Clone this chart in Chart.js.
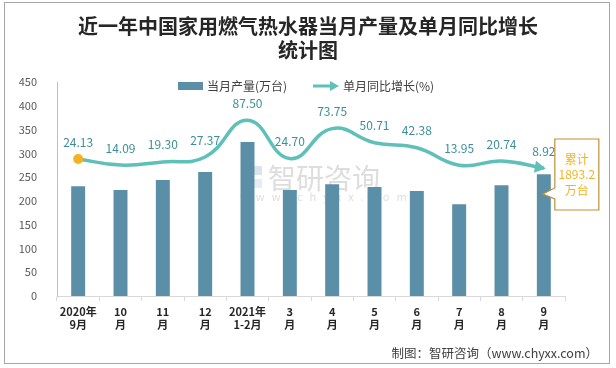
<!DOCTYPE html>
<html>
<head>
<meta charset="utf-8">
<script src="https://cdn.jsdelivr.net/npm/chart.js@4/dist/chart.umd.min.js"></script>
<style>
  html, body { margin: 0; padding: 0; background: #fff; }
  #wrap { width: 616px; height: 368px; position: relative; }
</style>
</head>
<body>
<div id="wrap"><canvas id="c" width="616" height="368"></canvas></div>
<script>
// ---- Datos ----
const months = [
  ['2020年', '9月'], ['10', '月'], ['11', '月'], ['12', '月'],
  ['2021年', '1-2月'], ['3', '月'], ['4', '月'], ['5', '月'],
  ['6', '月'], ['7', '月'], ['8', '月'], ['9', '月']
];
const output = [231, 223, 244, 261, 324, 223, 235, 229, 221, 193, 233, 256];
const growth = [24.13, 14.09, 19.30, 27.37, 87.50, 24.70, 73.75, 50.71, 42.38, 13.95, 20.74, 8.92];
const yTicks = [0, 50, 100, 150, 200, 250, 300, 350, 400, 450];
const titleLines = ['近一年中国家用燃气热水器当月产量及单月同比增长', '统计图'];
const legendBar = '当月产量(万台)';
const legendLine = '单月同比增长(%)';
const totalNote = ['累计', '1893.2', '万台'];
const sourceText = '制图：智研咨询（www.chyxx.com）';

const BAR = '#5b8fa8';
const TEAL = '#5ec0b8';
const LABEL = '#3c8f98';
const GOLD = '#f4b223';
const FONT = '"Noto Sans CJK SC", "Noto Sans", sans-serif';

// ---- Decoración (título, leyenda, marca de agua, nota) ----
const deco = {
  id: 'deco',
  beforeDraw(chart) {
    const c = chart.ctx;
    c.save();
    c.fillStyle = '#fff';
    c.fillRect(0, 0, chart.width, chart.height);
    c.strokeStyle = '#a6a6a6';
    c.lineWidth = 1;
    c.strokeRect(4.5, 2.5, 605, 361);

    // marca de agua
    c.globalAlpha = 0.25;
    c.fillStyle = '#6f8fb0';
    c.fillRect(241, 166, 8, 22);
    c.fillRect(251, 166, 11, 9);
    c.fillStyle = '#9fb6cc';
    c.fillRect(251, 179, 11, 9);
    c.font = '28px ' + FONT;
    c.textBaseline = 'middle';
    c.textAlign = 'left';
    c.fillStyle = '#777';
    c.fillText('智研咨询', 268, 178);
    c.font = '11px ' + FONT;
    if ('letterSpacing' in c) c.letterSpacing = '7px';
    c.fillText('www.chyxx.com', 240, 197);
    if ('letterSpacing' in c) c.letterSpacing = '0px';
    c.restore();
  },
  afterDraw(chart) {
    const c = chart.ctx;
    c.save();
    // título
    c.fillStyle = '#262626';
    c.textAlign = 'center';
    c.textBaseline = 'middle';
    c.font = 'bold 20px ' + FONT;
    c.fillText(titleLines[0], 308, 26);
    c.fillText(titleLines[1], 308, 50);

    // leyenda
    c.font = '12px ' + FONT;
    c.textAlign = 'left';
    c.fillStyle = BAR;
    c.fillRect(178, 82, 25, 8);
    c.fillStyle = '#404040';
    c.fillText(legendBar, 207, 86);
    c.strokeStyle = TEAL;
    c.lineWidth = 3;
    c.beginPath(); c.moveTo(313, 86); c.lineTo(331, 86); c.stroke();
    c.fillStyle = TEAL;
    c.beginPath(); c.moveTo(339, 86); c.lineTo(330, 81); c.lineTo(330, 91); c.closePath(); c.fill();
    c.fillStyle = '#404040';
    c.fillText(legendLine, 343, 86);

    // fuente
    c.font = '12.5px ' + FONT;
    c.textAlign = 'right';
    c.fillStyle = '#404040';
    c.fillText(sourceText, 598, 353);

    // nota acumulada junto a la última barra
    const bars = chart.getDatasetMeta(0).data;
    const last = bars[bars.length - 1];
    const tipX = last.x - 1, tipY = 194;
    const bx = tipX + 12, by = 139, bw = 44, bh = 71;
    c.beginPath();
    c.moveTo(bx, by);
    c.lineTo(bx + bw, by);
    c.lineTo(bx + bw, by + bh);
    c.lineTo(bx, by + bh);
    c.lineTo(bx, tipY + 5);
    c.lineTo(tipX, tipY);
    c.lineTo(bx, tipY - 6);
    c.closePath();
    c.fillStyle = '#fff';
    c.fill();
    c.strokeStyle = '#bf9033';
    c.lineWidth = 1.2;
    c.stroke();
    c.fillStyle = GOLD;
    c.font = '12px ' + FONT;
    c.textAlign = 'center';
    totalNote.forEach((t, i) => c.fillText(t, bx + bw / 2, 159 + i * 15.5));
    c.restore();
  },
  afterDatasetsDraw(chart) {
    const c = chart.ctx;
    const pts = chart.getDatasetMeta(1).data;
    c.save();
    // punta de flecha al final de la línea
    const p = pts[pts.length - 1];
    const ang = Math.atan2(p.y - p.cp1y, p.x - p.cp1x);
    c.translate(p.x, p.y);
    c.rotate(ang);
    c.fillStyle = TEAL;
    c.beginPath(); c.moveTo(2, 0); c.lineTo(-9, -6); c.lineTo(-9, 6); c.closePath(); c.fill();
    c.restore();

    // etiquetas de datos
    c.save();
    c.font = '12px ' + FONT;
    c.fillStyle = LABEL;
    c.textAlign = 'center';
    c.textBaseline = 'middle';
    pts.forEach((pt, i) => c.fillText(growth[i].toFixed(2), pt.x, pt.y - 17));
    c.restore();
  }
};

new Chart(document.getElementById('c'), {
  data: {
    labels: months,
    datasets: [
      {
        type: 'bar',
        label: legendBar,
        data: output,
        backgroundColor: BAR,
        barPercentage: 0.33,
        categoryPercentage: 1,
        yAxisID: 'y',
        order: 1
      },
      {
        type: 'line',
        label: legendLine,
        data: growth,
        borderColor: TEAL,
        borderWidth: 3.5,
        tension: 0.45,
        pointRadius: (ctx) => ctx.dataIndex === 0 ? 5 : 0,
        pointBackgroundColor: GOLD,
        pointBorderWidth: 0,
        yAxisID: 'y2',
        order: 0
      }
    ]
  },
  options: {
    responsive: false,
    animation: false,
    layout: { padding: { left: 0, right: 51, top: 82, bottom: 0 } },
    plugins: { legend: { display: false }, title: { display: false }, tooltip: { enabled: false } },
    scales: {
      x: {
        offset: true,
        grid: { display: true, drawOnChartArea: false, offset: true, color: '#d9d9d9', tickLength: 5 },
        border: { color: '#d9d9d9' },
        ticks: { color: '#262626', font: { family: FONT, size: 11, weight: 'bold' }, padding: 4, maxRotation: 0, autoSkip: false },
        afterFit: (s) => { s.height = 72; }
      },
      y: {
        min: 0, max: 450,
        afterBuildTicks: (s) => { s.ticks = yTicks.map(v => ({ value: v })); },
        grid: { display: false },
        border: { color: '#bfbfbf' },
        ticks: { color: '#595959', font: { family: FONT, size: 11 }, padding: 12 },
        afterFit: (s) => { s.width = 57; }
      },
      y2: { display: false, min: -200, max: 150 }
    }
  },
  plugins: [deco]
});
</script>
</body>
</html>
